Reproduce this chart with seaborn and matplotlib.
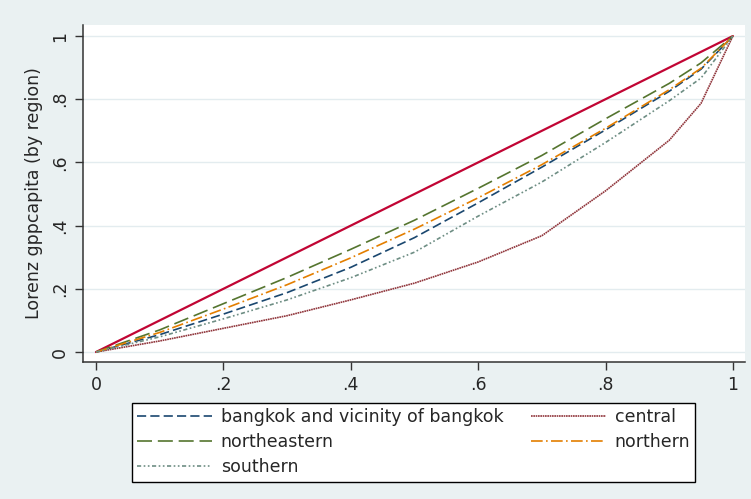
import pandas as pd
import matplotlib
matplotlib.use("Agg")
import matplotlib.pyplot as plt
import seaborn as sns

# cumulative population share and Lorenz ordinates per region
pop_share = [0, 0.1, 0.2, 0.3, 0.4, 0.5, 0.6, 0.7, 0.8, 0.9, 0.95, 1.0]
bangkok = [0, 0.055, 0.12, 0.188, 0.268, 0.362, 0.472, 0.585, 0.703, 0.825, 0.895, 1.0]
central = [0, 0.035, 0.075, 0.115, 0.165, 0.218, 0.285, 0.368, 0.51, 0.67, 0.787, 1.0]
northeastern = [0, 0.07, 0.153, 0.236, 0.325, 0.417, 0.518, 0.622, 0.738, 0.85, 0.915, 1.0]
northern = [0, 0.062, 0.136, 0.213, 0.298, 0.389, 0.488, 0.593, 0.708, 0.83, 0.898, 1.0]
southern = [0, 0.048, 0.105, 0.165, 0.235, 0.316, 0.43, 0.538, 0.663, 0.795, 0.867, 1.0]
equality = [0, 1]

regions = ["bangkok and vicinity of bangkok", "central", "northeastern",
           "northern", "southern"]
series = [bangkok, central, northeastern, northern, southern]
xticks = [0, 0.2, 0.4, 0.6, 0.8, 1.0]
tick_labels = ["0", ".2", ".4", ".6", ".8", "1"]

rows = []
for name, vals in zip(regions, series):
    for x, y in zip(pop_share, vals):
        rows.append({"share": x, "lorenz": y, "region": name})
df = pd.DataFrame(rows)

palette = {
    "bangkok and vicinity of bangkok": "#1A476F",
    "central": "#90353B",
    "northeastern": "#55752F",
    "northern": "#E37E00",
    "southern": "#6E8E84",
}
dashes = {
    "bangkok and vicinity of bangkok": (5.5, 2.5),
    "central": (1, 0.4),
    "northeastern": (9, 3.5),
    "northern": (7, 2, 1, 2),
    "southern": (2.5, 1.5, 1, 1.5, 1, 1.5),
}

sns.set_style("white")
plt.rcParams["font.family"] = ["DejaVu Sans"]

fig = plt.figure(figsize=(7.51, 4.99), dpi=100, facecolor="#EAF1F2")
ax = fig.add_axes([0.1105, 0.2745, 0.8815, 0.6755])
ax.set_facecolor("white")

# equality line
sns.lineplot(x=equality, y=equality, color="#C10534", linewidth=1.6, ax=ax)

sns.lineplot(data=df, x="share", y="lorenz", hue="region", style="region",
             hue_order=regions, style_order=regions, palette=palette,
             dashes=dashes, linewidth=1.2, legend=False, ax=ax)

ax.set_xlim(-0.0204, 1.019)
ax.set_ylim(-0.0316, 1.035)
ax.set_xticks(xticks)
ax.set_xticklabels(tick_labels, fontsize=12.5)
ax.set_yticks(xticks)
ax.set_yticklabels(tick_labels, fontsize=12.5, rotation=90, va="center")
ax.grid(axis="y", color="#E3ECEF", linewidth=1)
ax.grid(axis="x", visible=False)
ax.set_xlabel("")
ax.set_ylabel("Lorenz gppcapita (by region)", fontsize=12.5, labelpad=6)

for side in ["top", "right"]:
    ax.spines[side].set_visible(False)
for side in ["left", "bottom"]:
    ax.spines[side].set_color("#333333")
    ax.spines[side].set_linewidth(1.1)
ax.tick_params(axis="both", direction="out", length=6, width=1,
               color="#333333", left=True, bottom=True, pad=4)

# legend, rows like stata: bangkok/central, northeastern/northern, southern
region_lines = ax.lines[1:6]
order = [0, 2, 4, 1, 3]
leg = fig.legend([region_lines[i] for i in order], [regions[i] for i in order],
                 ncol=2, loc="center", bbox_to_anchor=(0.551, 0.114),
                 fontsize=12.5, handlelength=4.3, handletextpad=0.5,
                 columnspacing=1.6, labelspacing=0.42, frameon=True,
                 fancybox=False, borderpad=0.3, framealpha=1)
leg.get_frame().set_edgecolor("black")
leg.get_frame().set_linewidth(1)
leg.get_frame().set_facecolor("white")

fig.savefig("out.png", dpi=100, facecolor=fig.get_facecolor())
